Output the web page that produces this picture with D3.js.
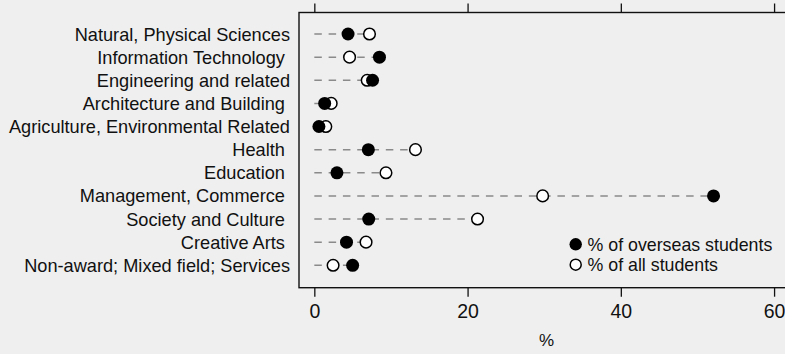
<!DOCTYPE html>
<html><head><meta charset="utf-8">
<script src="https://cdn.jsdelivr.net/npm/d3@7"></script>
<style>
html,body{margin:0;padding:0;background:#efefef;}
svg{display:block;font-family:"Liberation Sans",Arial,sans-serif;}
</style></head>
<body>
<svg id="c" width="785" height="354"></svg>
<script>
const categories = [
  "Natural, Physical Sciences",
  "Information Technology ",
  "Engineering and related",
  "Architecture and Building ",
  "Agriculture, Environmental Related",
  "Health ",
  "Education ",
  "Management, Commerce ",
  "Society and Culture ",
  "Creative Arts ",
  "Non-award; Mixed field; Services"
];
const overseas = [4.4, 8.5, 7.6, 1.35, 0.6, 7.05, 2.95, 52.1, 7.1, 4.2, 5.0];
const allStudents = [7.2, 4.6, 6.9, 2.2, 1.5, 13.2, 9.35, 29.8, 21.3, 6.75, 2.45];
const xTicks = [0, 20, 40, 60];
const seriesNames = ["% of overseas students", "% of all students"];
const xTitle = "%";

const svg = d3.select("#c");
const x = d3.scaleLinear().domain([-2, 62.6]).range([299, 794]);
const y = d3.scalePoint().domain(categories).range([34, 265.3]);
const plotTop = 12.5, plotBottom = 287.7;

svg.append("rect").attr("width",785).attr("height",354).attr("fill","#efefef");

// frame
svg.append("rect").attr("x",x(-2)).attr("y",plotTop).attr("width",x(62.6)-x(-2)).attr("height",plotBottom-plotTop)
  .attr("fill","none").attr("stroke","#111").attr("stroke-width",1.4);

// top axis (ticks only)
const topAxis = d3.axisTop(x).tickValues(xTicks).tickSize(9).tickFormat("");
const gt = svg.append("g").attr("transform",`translate(0,${plotTop})`).call(topAxis);
gt.select(".domain").remove();
gt.selectAll(".tick line").attr("stroke","#111").attr("stroke-width",1.3);

// bottom axis
const botAxis = d3.axisBottom(x).tickValues(xTicks).tickSize(9).tickPadding(7).tickFormat(d3.format("d"));
const gb = svg.append("g").attr("transform",`translate(0,${plotBottom})`).call(botAxis);
gb.select(".domain").remove();
gb.selectAll(".tick line").attr("stroke","#111").attr("stroke-width",1.3);
gb.selectAll(".tick text").attr("font-size","19.5px").attr("fill","#111").attr("font-family","Liberation Sans, Arial, sans-serif");

svg.append("text").attr("x",(x(-2)+x(62.6))/2).attr("y",346).attr("text-anchor","middle")
  .attr("font-size","17px").attr("fill","#111").text(xTitle);

// category labels
svg.append("g").selectAll("text").data(categories).join("text")
  .attr("x",290).attr("y",d=>y(d)).attr("dy","0.36em").attr("text-anchor","end")
  .attr("font-size","18.2px").attr("fill","#111").style("white-space","pre").text(d=>d);

const rows = categories.map((c,i)=>({c, o:overseas[i], a:allStudents[i]}));

// dashed lines
svg.append("g").selectAll("line").data(rows).join("line")
  .attr("x1",x(0)).attr("x2",d=>x(Math.max(d.o,d.a)))
  .attr("y1",d=>y(d.c)).attr("y2",d=>y(d.c))
  .attr("stroke","#8a8a8a").attr("stroke-width",1.5).attr("stroke-dasharray","7.5,6.8");

// open markers
svg.append("g").selectAll("circle").data(rows).join("circle")
  .attr("cx",d=>x(d.a)).attr("cy",d=>y(d.c)).attr("r",5.8)
  .attr("fill","#fff").attr("stroke","#000").attr("stroke-width",1.5);
// filled markers
svg.append("g").selectAll("circle").data(rows).join("circle")
  .attr("cx",d=>x(d.o)).attr("cy",d=>y(d.c)).attr("r",6.5).attr("fill","#000");

// legend
const lg = svg.append("g");
lg.append("circle").attr("cx",575.7).attr("cy",244.3).attr("r",6.2).attr("fill","#000");
lg.append("circle").attr("cx",575.7).attr("cy",264.7).attr("r",5.5).attr("fill","#fff").attr("stroke","#000").attr("stroke-width",1.5);
lg.selectAll("text").data(seriesNames).join("text")
  .attr("x",587.5).attr("y",(d,i)=>i===0?244.3:264.7).attr("dy","0.36em")
  .attr("font-size","17.8px").attr("fill","#111").text(d=>d);
</script>
</body></html>
